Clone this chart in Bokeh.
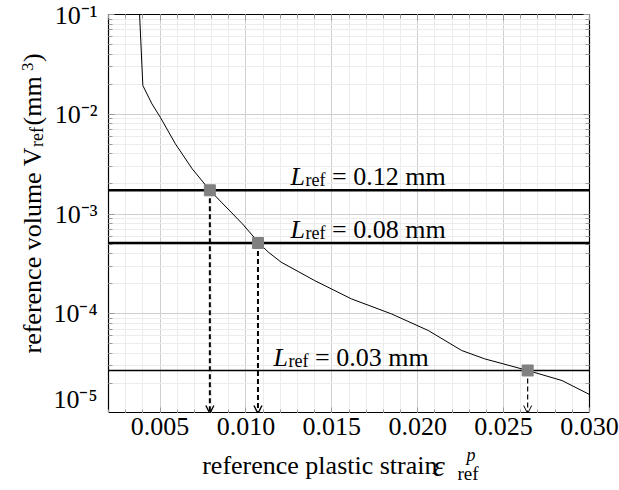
import math
from bokeh.plotting import figure
from bokeh.layouts import column, row
from bokeh.models import (FixedTicker, LinearAxis, LogAxis, Span, Arrow, OpenHead,
                          Label, ColumnDataSource, Range1d)
from bokeh.embed import file_html
from bokeh.resources import INLINE

# ---------------- data ----------------
strain = [0.00381, 0.00400, 0.00453, 0.00502, 0.00589, 0.00687, 0.00790, 0.00979,
          0.01076, 0.01130, 0.01205, 0.01400, 0.01614, 0.01847, 0.02061, 0.02256,
          0.02390, 0.02640, 0.02840, 0.03000]
volume = [1.0e-1, 1.94e-2, 1.27e-2, 9.3e-3, 5.06e-3, 2.84e-3, 1.728e-3, 7.98e-4,
          5.12e-4, 4.15e-4, 3.29e-4, 2.15e-4, 1.41e-4, 9.97e-5, 6.8e-5, 4.28e-5,
          3.53e-5, 2.7e-5, 2.14e-5, 1.55e-5]

L_ref_text = ["0.12", "0.08", "0.03"]
L_ref_volume = [1.728e-3, 5.12e-4, 2.7e-5]
L_ref_strain = [0.0079, 0.0107, 0.0264]

x_ticks = [0.005, 0.010, 0.015, 0.020, 0.025, 0.030]
x_tick_labels = ["0.005", "0.010", "0.015", "0.020", "0.025", "0.030"]
y_ticks = [1e-5, 1e-4, 1e-3, 1e-2, 1e-1]
y_tick_labels = ["10\u207b\u2075", "10\u207b\u2074", "10\u207b\u00b3", "10\u207b\u00b2", "10\u207b\u00b9"]

FONT = "Liberation Serif"
TICK_GREY = "#9a9a9a"

x_minor = [round(0.002 + 0.001 * i, 3) for i in range(29)]
y_minor = [m * 10.0 ** e for e in range(-5, -1) for m in range(2, 10)]
xt = FixedTicker(ticks=x_ticks, minor_ticks=x_minor)
yt = FixedTicker(ticks=y_ticks, minor_ticks=y_minor)
x_range = Range1d(0.002, 0.030)
y_range = Range1d(1e-5, 1e-1)

YW = 50  # width of the strip that holds the y title

# ---------------- main plot ----------------
p = figure(width=619 - YW, height=413, x_range=x_range, y_range=y_range,
           y_axis_type="log", output_backend="svg", toolbar_location=None,
           min_border_left=108 - YW, min_border_right=30, min_border_top=14,
           min_border_bottom=0)
p.background_fill_color = "white"
p.border_fill_color = "white"
p.outline_line_color = "black"
p.outline_line_width = 1.2

def style_axis(ax):
    ax.axis_line_color = None
    ax.major_tick_in = 6
    ax.major_tick_out = 0
    ax.minor_tick_in = 4
    ax.minor_tick_out = 0
    ax.major_tick_line_color = TICK_GREY
    ax.minor_tick_line_color = TICK_GREY
    ax.major_label_text_font = FONT
    ax.major_label_text_font_size = "26px"
    ax.major_label_text_color = "black"

xa = p.xaxis[0]
xa.ticker = xt
style_axis(xa)
xa.major_label_overrides = {t: "" for t in x_ticks}   # labels are drawn by the strip axis below
xa.major_label_standoff = 0

ya = p.yaxis[0]
ya.ticker = yt
style_axis(ya)
ya.major_label_overrides = dict(zip(y_ticks, y_tick_labels))
ya.major_label_standoff = 11

top = LinearAxis(ticker=xt)
style_axis(top)
top.major_label_overrides = {t: "" for t in x_ticks}
top.major_label_standoff = 0
p.add_layout(top, "above")
right = LogAxis(ticker=yt)
style_axis(right)
right.major_label_overrides = {t: "" for t in y_ticks}
right.major_label_standoff = 0
p.add_layout(right, "right")

p.xgrid.ticker = xt
p.ygrid.ticker = yt
for g in (p.xgrid, p.ygrid):
    g.grid_line_color = "#cfcfcf"
    g.grid_line_width = 1
    g.minor_grid_line_color = "#ececec"
    g.minor_grid_line_width = 1

p.line(strain, volume, line_color="black", line_width=1.0)

line_widths = [2.4, 2.4, 1.4]
for v, w in zip(L_ref_volume, line_widths):
    p.add_layout(Span(location=v, dimension="width", line_color="black", line_width=w))

for xs, v, w in zip(L_ref_strain, L_ref_volume, line_widths):
    head = OpenHead(size=8, line_width=1.4 if w > 2 else 1.0, line_color="black")
    p.add_layout(Arrow(end=head, x_start=xs, y_start=v, x_end=xs, y_end=1e-5,
                       line_color="black", line_width=2.0 if w > 2 else 1.2,
                       line_dash="5 3"))

src = ColumnDataSource(dict(x=L_ref_strain, y=L_ref_volume))
r = p.scatter("x", "y", source=src, marker="square", size=11,
              fill_color="#808080", line_color="#808080")
r.level = "overlay"

label_x = [0.01259, 0.01259, 0.0116]
label_dy = [14, 14, 13]
for lx, v, dy, t in zip(label_x, L_ref_volume, label_dy, L_ref_text):
    p.add_layout(Label(x=lx, y=v, y_offset=dy, text="L", text_font=FONT,
                       text_font_style="italic", text_font_size="26px",
                       text_color="black", text_baseline="alphabetic"))
    p.add_layout(Label(x=lx, y=v, x_offset=15, y_offset=dy - 3.5, text="ref",
                       text_font=FONT, text_font_size="18px", text_color="black",
                       text_baseline="alphabetic"))
    p.add_layout(Label(x=lx, y=v, x_offset=41.7, y_offset=dy, text="= " + t + " mm",
                       text_font=FONT, text_font_size="26px", text_color="black",
                       text_baseline="alphabetic"))

# ---------------- strip below: x tick labels + x title ----------------
xf = figure(width=619, height=77, x_range=x_range, y_range=Range1d(0, 1),
            x_axis_location="above", y_axis_location=None,
            output_backend="svg", toolbar_location=None,
            min_border_left=108, min_border_right=30, min_border_top=27,
            min_border_bottom=0)
xf.outline_line_color = None
xf.background_fill_color = "white"
xf.border_fill_color = "white"
xf.xgrid.visible = False
xf.ygrid.visible = False
xb = xf.xaxis[0]
xb.ticker = xt
xb.axis_line_color = None
xb.major_tick_line_color = None
xb.minor_tick_line_color = None
xb.major_label_text_font = FONT
xb.major_label_text_font_size = "26px"
xb.major_label_text_color = "black"
xb.major_label_overrides = dict(zip(x_ticks, x_tick_labels))
xb.major_label_standoff = 0

def lab(fig, text, x, y, size, italic=False, angle=0.0):
    fig.add_layout(Label(x=x, y=y, x_units="screen", y_units="screen", text=text,
                         text_font=FONT, text_font_size=size, text_color="black",
                         text_font_style="italic" if italic else "normal",
                         text_baseline="alphabetic", text_align="left", angle=angle))

lab(xf, "reference plastic strain", 93.7, 25, "26px")
lab(xf, "\u03b5", 324.5, 25, "30px", italic=True)
lab(xf, "ref", 349, 17, "19px")
lab(xf, "p", 358, 36, "18px", italic=True)

# ---------------- strip left: y title ----------------
yf = figure(width=YW, height=413, x_range=Range1d(0, 1), y_range=Range1d(0, 1),
            x_axis_location=None, y_axis_location=None,
            output_backend="svg", toolbar_location=None,
            min_border_left=0, min_border_right=0, min_border_top=0,
            min_border_bottom=0)
yf.outline_line_color = None
yf.background_fill_color = "white"
yf.border_fill_color = "white"
yf.xgrid.visible = False
yf.ygrid.visible = False

A = math.pi / 2
lab(yf, "reference volume V", 32, 60, "26px", angle=A)
lab(yf, "ref", 36.5, 266.4, "18px", angle=A)
lab(yf, " (mm", 32, 288, "26px", angle=A)
lab(yf, "3", 27, 342.5, "17px", angle=A)
lab(yf, ")", 32, 351.5, "26px", angle=A)

layout = column(row(yf, p), xf)
open("out.html", "w").write(file_html(layout, INLINE))
